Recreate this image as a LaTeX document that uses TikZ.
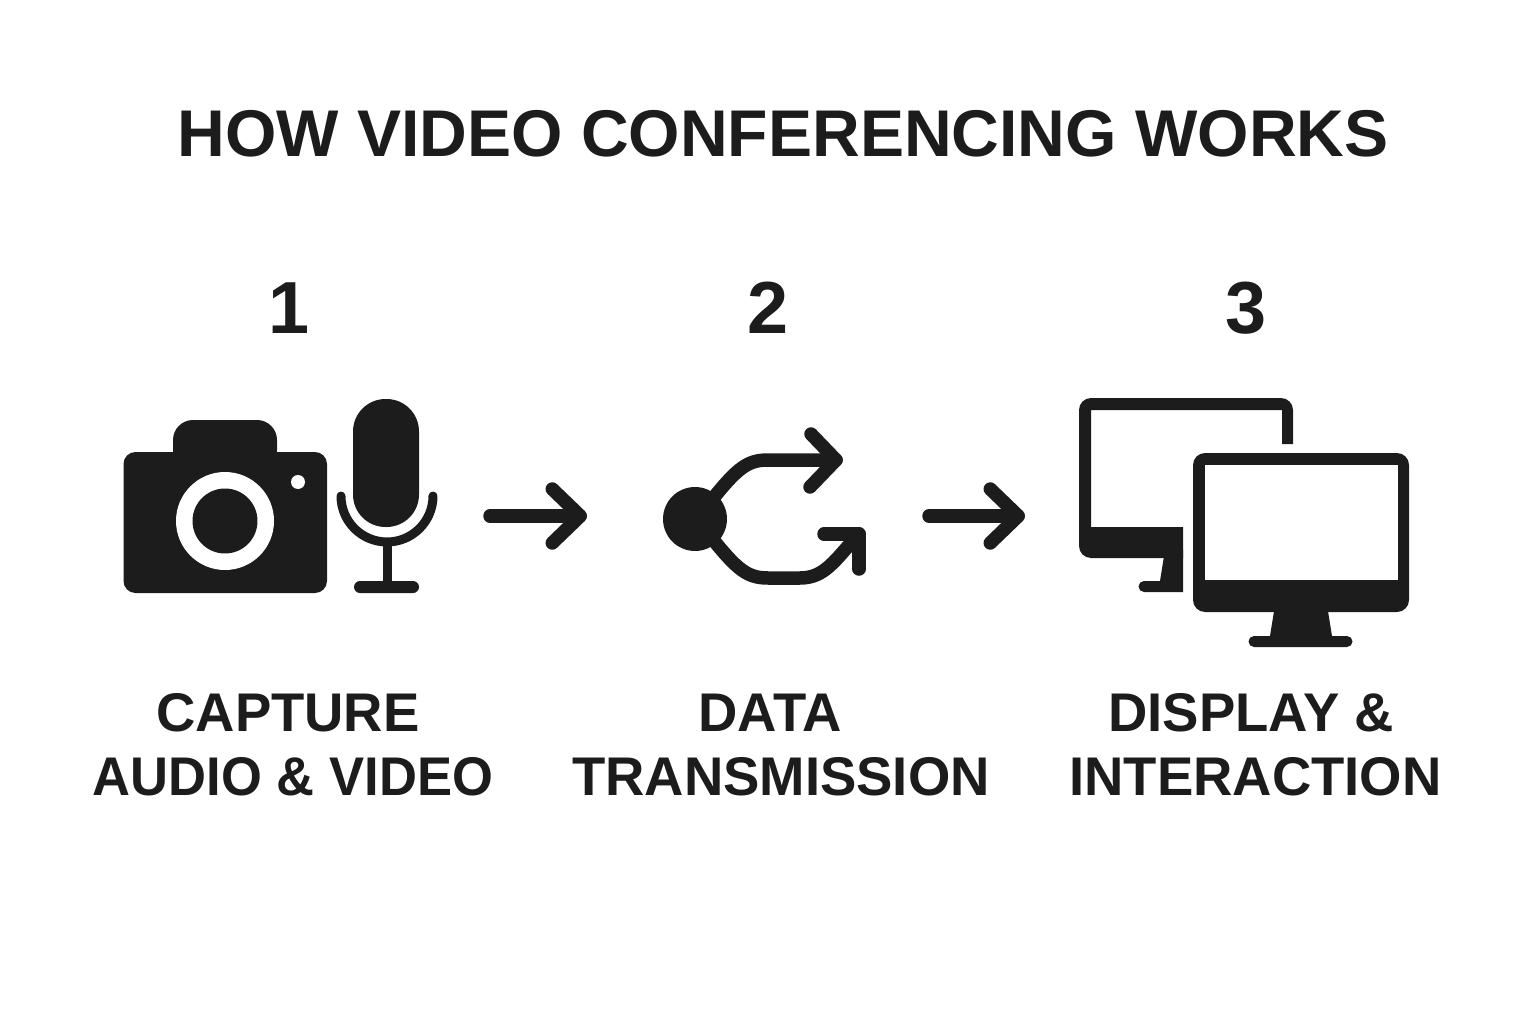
\documentclass[tikz,border=0pt]{standalone}
\usepackage{fontspec}
\setmainfont{Liberation Sans}
\newfontfamily\tightfont[FakeStretch=0.965]{Liberation Sans}
\usetikzlibrary{arrows.meta}
\definecolor{inkblack}{HTML}{1C1C1C}
\tikzset{
	heading/.style={anchor=base,text=inkblack,inner sep=0pt,font=\bfseries\fontsize{37.6}{38}\selectfont},
	stepnum/.style={anchor=base,text=inkblack,inner sep=0pt,font=\bfseries\fontsize{42}{42}\selectfont},
	caption/.style={anchor=base,text=inkblack,inner sep=0pt,font=\bfseries\fontsize{31}{31}\selectfont},
	captiontight/.style={caption,font=\tightfont\bfseries\fontsize{31}{31}\selectfont},
	iconfill/.style={fill=inkblack,draw=none},
	iconline/.style={draw=inkblack,line width=0.27cm,line cap=round,line join=round},
	micline/.style={draw=inkblack,line width=0.18cm,line cap=round},
	flowarrow/.style={draw=inkblack,line width=0.27cm,line cap=round,-{Straight Barb[round,line width=0.27cm,length=0.56cm,width=1.08cm]}}
}
\begin{document}
\begin{tikzpicture}[x=0.02cm,y=-0.02cm]
	\useasboundingbox (0,0) rectangle (1536,1024);
	\node[heading] (title) at (783,156) {HOW VIDEO CONFERENCING WORKS};
	\node[stepnum] (numone) at (289,333) {1};
	\node[stepnum] (numtwo) at (768,333) {2};
	\node[stepnum] (numthree) at (1246,333) {3};
	\node[caption] (capone) at (288,731) {CAPTURE};
	\node[captiontight] (capfour) at (293,795) {AUDIO \& VIDEO};
	\node[caption] (captwo) at (770,731) {DATA};
	\node[caption] (capfive) at (781,795) {TRANSMISSION};
	\node[caption] (capthree) at (1251,731) {DISPLAY \&};
	\node[caption] (capsix) at (1255.5,795) {INTERACTION};
	\fill[iconfill,rounded corners=0.24cm] (123.5,593) -- (123.5,452) -- (327,452) -- (327,593) -- cycle;
	\fill[iconfill,rounded corners=0.4cm] (173,470) -- (173,420) -- (277,420) -- (277,470) -- cycle;
	\fill[white] (225,521) circle (0.98cm);
	\fill[iconfill] (225,521) circle (0.65cm);
	\fill[white] (298,482) circle (0.14cm);
	\fill[iconfill,rounded corners=0.65cm] (353,399) rectangle (419,527);
	\draw[micline] (341,496) arc[start angle=180,end angle=360,radius=0.92cm];
	\draw[micline,line cap=butt] (387.5,542) -- (387.5,585);
	\fill[iconfill,rounded corners=0.12cm] (354,593) -- (354,581) -- (419,581) -- (419,593) -- cycle;
	\coordinate (arrowonea) at (490,516);
	\coordinate (arrowoneb) at (587,516);
	\draw[flowarrow] (arrowonea) -- (arrowoneb);
	\fill[iconfill] (695,519) circle (0.64cm);
	\draw[iconline] (700,515) .. controls (735,470) and (745,460) .. (768,460) -- (836,460);
	\draw[iconline] (811,434) -- (836,460) -- (810,487);
	\draw[iconline] (700,523) .. controls (735,568) and (745,578) .. (768,578) -- (800,578) .. controls (825,578) and (835,560) .. (859,534);
	\draw[iconline] (824,534) -- (859,534) -- (859,569);
	\coordinate (arrowtwoa) at (929,516);
	\coordinate (arrowtwob) at (1025,516);
	\draw[flowarrow] (arrowtwoa) -- (arrowtwob);
	\fill[iconfill] (1293,444) -- (1282,444) -- (1282,410) -- (1091,410) -- (1091,527) -- (1183,527) -- (1183,558) -- (1091,558) arc[start angle=270,end angle=180,radius=0.24cm] -- (1079,410) arc[start angle=180,end angle=90,radius=0.24cm] -- (1281,398) arc[start angle=90,end angle=0,radius=0.24cm] -- cycle;
	\fill[iconfill] (1183,550) -- (1183,592) -- (1144,592) arc[start angle=270,end angle=90,radius=0.11cm] -- (1160,581) -- (1165,550) -- cycle;
	\fill[iconfill,rounded corners=0.24cm] (1193,612) -- (1193,453) -- (1409,453) -- (1409,612) -- cycle;
	\fill[white] (1205,465) rectangle (1398,580);
	\fill[iconfill] (1275,605) -- (1270,636) -- (1254,636) arc[start angle=90,end angle=270,radius=0.11cm] -- (1347,647) arc[start angle=-90,end angle=90,radius=0.11cm] -- (1332,636) -- (1327,605) -- cycle;
\end{tikzpicture}
\end{document}
